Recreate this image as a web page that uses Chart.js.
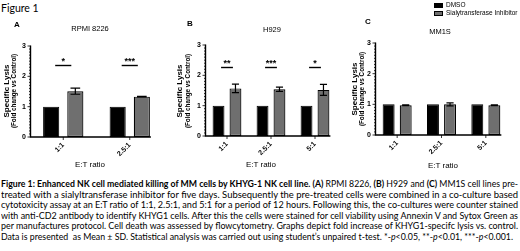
<!DOCTYPE html>
<html>
<head>
<meta charset="utf-8">
<script src="https://cdn.jsdelivr.net/npm/chart.js@4.4.1/dist/chart.umd.min.js"></script>
<style>
  html, body { margin: 0; padding: 0; background: #fff; }
  body { width: 520px; height: 251px; position: relative; overflow: hidden; font-family: "Liberation Sans", Arial, sans-serif; color: #000; }
  canvas { position: absolute; top: 0; }
  .t { position: absolute; white-space: nowrap; transform: translate(-50%, -50%); }
  .rot { transform: translate(-50%, -50%) rotate(-90deg); }
  .fig { position: absolute; left: 1px; top: 2px; font-family: Lato, "Open Sans", sans-serif; font-size: 10.5px; }
  .legend { position: absolute; left: 434px; width: 86px; font-size: 6.5px; line-height: 8px; }
  .legend div { white-space: nowrap; }
  .legend span.box { display: inline-block; width: 9px; height: 5px; border: 1px solid #000; margin-right: 3px; vertical-align: -1px; box-sizing: border-box; }
  .cap { position: absolute; left: 1px; font-family: Lato, "Open Sans", sans-serif; font-size: 9.5px; white-space: nowrap; transform-origin: 0 50%; }
</style>
</head>
<body>
<div class="fig">Figure 1</div>

<canvas id="chartA" width="172" height="175" style="left:0px"></canvas>
<canvas id="chartB" width="172" height="175" style="left:170px"></canvas>
<canvas id="chartC" width="180" height="175" style="left:340px"></canvas>

<div id="labels"></div>
<div id="legend"></div>
<div id="caption"></div>

<script>
  // data
  var ratiosA = ['1:1', '2.5:1'];
  var ratiosBC = ['1:1', '2.5:1', '5:1'];
  var seriesNames = ['DMSO', 'Sialytransferase Inhibitor'];
  var seriesColors = ['#000000', '#6f6f6f'];

  var dmsoA = [1, 1];
  var inhibA = [1.51, 1.33];
  var inhibSdA = [0.1, 0.01];
  var starsA = ['*', '***'];

  var dmsoB = [1, 1, 1];
  var inhibB = [1.57, 1.54, 1.52];
  var inhibSdB = [0.14, 0.07, 0.18];
  var starsB = ['**', '***', '*'];

  var dmsoC = [1, 1, 1];
  var inhibC = [0.97, 1.0, 0.97];
  var inhibSdC = [0.01, 0.05, 0.01];
  var starsC = [];

  var yTicks = [0, 1, 2, 3];
  var panelTitles = ['RPMI 8226', 'H929', 'MM1S'];
  var panelLetters = ['A', 'B', 'C'];
  var xTitle = 'E:T ratio';
  var yTitle = 'Specific Lysis';
  var ySubTitle = '(Fold change vs Control)';

  var captionLines = [
    '<b>Figure 1: Enhanced NK cell mediated killing of MM cells by KHYG-1 NK cell line. (A)</b> RPMI 8226, <b>(B)</b> H929 and <b>(C)</b> MM1S cell lines pre-',
    'treated with a sialyltransferase inhibitor for five days. Subsequently the pre-treated cells were combined in a co-culture based',
    'cytotoxicity assay at an E:T ratio of 1:1, 2.5:1, and 5:1 for a period of 12 hours. Following this, the co-cultures were counter stained',
    'with anti-CD2 antibody to identify KHYG1 cells. After this the cells were stained for cell viability using Annexin V and Sytox Green as',
    'per manufactures protocol. Cell death was assessed by flowcytometry. Graphs depict fold increase of KHYG1-specifc lysis vs. control.',
    'Data is presented &nbsp;as Mean \u00b1 SD. Statistical analysis was carried out using student\u2019s unpaired t-test. *-<i>p</i>&lt;0.05, **-<i>p</i>&lt;0.01, ***-<i>p</i>&lt;0.001.'
  ];

  // draws the Prism style axes, error bars and significance marks
  var prismPlugin = {
    id: 'prism',
    afterDatasetsDraw: function(chart, args, opts) {
      var ctx = chart.ctx;
      var y = chart.scales.y;
      var area = chart.chartArea;
      var m0 = chart.getDatasetMeta(0).data;
      var m1 = chart.getDatasetMeta(1).data;
      ctx.save();
      ctx.strokeStyle = '#000';
      ctx.lineWidth = 1.2;

      // error bars on the inhibitor series
      for (var i = 0; i < m1.length; i++) {
        var v = chart.data.datasets[1].data[i];
        var sd = opts.sd[i] || 0;
        if (!sd) continue;
        var el = m1[i];
        var top = y.getPixelForValue(v + sd);
        var bot = y.getPixelForValue(v - sd);
        var half = el.width * 0.3;
        ctx.beginPath();
        ctx.moveTo(el.x, top); ctx.lineTo(el.x, bot);
        ctx.moveTo(el.x - half, top); ctx.lineTo(el.x + half, top);
        ctx.moveTo(el.x - half, bot); ctx.lineTo(el.x + half, bot);
        ctx.stroke();
      }

      // significance bars
      ctx.fillStyle = '#000';
      ctx.font = 'bold 9px "Liberation Sans", Arial';
      ctx.textAlign = 'center';
      ctx.textBaseline = 'bottom';
      for (var j = 0; j < opts.stars.length; j++) {
        if (!opts.stars[j]) continue;
        var cx = (m0[j].x + m1[j].x) / 2;
        var ly = Math.round(y.getPixelForValue(opts.level)) + 0.5;
        var hw = m0[j].width * 0.5;
        ctx.lineWidth = 1.4;
        ctx.beginPath();
        ctx.moveTo(cx - hw, ly); ctx.lineTo(cx + hw, ly);
        ctx.stroke();
        ctx.fillText(opts.stars[j], cx, ly + 1);
      }

      // axes
      var x0 = area.left + 0.5;
      var yb = y.getPixelForValue(0);
      var yt = y.getPixelForValue(3);
      var last = m1[m1.length - 1];
      ctx.lineWidth = 1.4;
      ctx.beginPath();
      ctx.moveTo(x0, yt - 0.5); ctx.lineTo(x0, yb + 0.7);
      ctx.moveTo(x0, yb); ctx.lineTo(last.x + last.width / 2 + 1, yb);
      ctx.stroke();
      ctx.lineWidth = 0.8;
      ctx.beginPath();
      for (var k = 0; k <= 30; k++) {
        var py = y.getPixelForValue(k / 10);
        var len = k % 10 === 0 ? 3 : 1.5;
        ctx.moveTo(x0 - len, py); ctx.lineTo(x0, py);
      }
      for (var c = 0; c < m0.length; c++) {
        var tx = (m0[c].x + m1[c].x) / 2;
        ctx.moveTo(tx, yb); ctx.lineTo(tx, yb + 3);
      }
      ctx.stroke();
      ctx.restore();
    }
  };

  function makeChart(id, labels, dmso, inhib, sd, stars, level, box) {
    return new Chart(document.getElementById(id), {
      type: 'bar',
      data: {
        labels: labels,
        datasets: [{
          label: seriesNames[0],
          data: dmso,
          backgroundColor: seriesColors[0],
          borderColor: '#000',
          borderWidth: 1,
          borderSkipped: false
        }, {
          label: seriesNames[1],
          data: inhib,
          backgroundColor: seriesColors[1],
          borderColor: '#000',
          borderWidth: 1.2,
          borderSkipped: false
        }]
      },
      options: {
        responsive: false,
        animation: false,
        events: [],
        categoryPercentage: box.cat,
        barPercentage: box.bar,
        layout: { padding: { top: box.top, left: 0, right: box.right, bottom: 0 } },
        plugins: {
          legend: { display: false },
          tooltip: { enabled: false },
          prism: { sd: sd, stars: stars, level: level }
        },
        scales: {
          x: {
            grid: { display: false, tickLength: 4 },
            border: { display: false },
            ticks: { color: '#000', font: { family: '"Liberation Sans", Arial', size: 7, weight: 'bold' }, minRotation: 45, maxRotation: 45, padding: 0 },
            afterFit: function(s) { s.height = box.xh; }
          },
          y: {
            min: 0,
            max: 3,
            grid: { display: false, tickLength: 3 },
            border: { display: false },
            afterBuildTicks: function(s) { s.ticks = yTicks.map(function(v) { return { value: v }; }); },
            ticks: { color: '#000', font: { family: '"Liberation Sans", Arial', size: 7, weight: 'bold' }, padding: 1 },
            afterFit: function(s) { s.width = box.yw; }
          }
        }
      },
      plugins: [prismPlugin]
    });
  }

  makeChart('chartA', ratiosA, dmsoA, inhibA, inhibSdA, starsA, 2.37,
    { top: 46, right: 9, yw: 30, xh: 38, cat: 0.727, bar: 0.667 });
  makeChart('chartB', ratiosBC, dmsoB, inhibB, inhibSdB, starsB, 2.29,
    { top: 45, right: 5, yw: 35, xh: 39, cat: 0.77, bar: 0.7 });
  makeChart('chartC', ratiosBC, dmsoC, inhibC, inhibSdC, starsC, 2.3,
    { top: 43, right: 12, yw: 35, xh: 40, cat: 0.77, bar: 0.7 });

  // panel texts
  var panelPos = [
    { letter: [17, 24], title: [90, 28], ys: [6, 91], yf: [13, 91], xt: [90, 164] },
    { letter: [190, 23], title: [272, 29], ys: [179, 91], yf: [187, 91], xt: [261, 164] },
    { letter: [368, 21], title: [440, 31], ys: [354, 89], yf: [361, 89], xt: [443, 165] }
  ];
  var html = '';
  panelPos.forEach(function(p, i) {
    html += '<div class="t" style="left:' + p.letter[0] + 'px;top:' + p.letter[1] + 'px;font-size:8px;font-weight:bold">' + panelLetters[i] + '</div>';
    html += '<div class="t" style="left:' + p.title[0] + 'px;top:' + p.title[1] + 'px;font-size:7.5px">' + panelTitles[i] + '</div>';
    html += '<div class="t rot" style="left:' + p.ys[0] + 'px;top:' + p.ys[1] + 'px;font-size:8px;font-weight:bold">' + yTitle + '</div>';
    html += '<div class="t rot" style="left:' + p.yf[0] + 'px;top:' + p.yf[1] + 'px;font-size:6.3px;font-weight:bold">' + ySubTitle + '</div>';
    html += '<div class="t" style="left:' + p.xt[0] + 'px;top:' + p.xt[1] + 'px;font-size:8px">' + xTitle + '</div>';
  });
  document.getElementById('labels').innerHTML = html;

  var leg = '';
  seriesNames.forEach(function(name, i) {
    leg += '<div style="position:absolute;left:0;top:' + (i * 8) + 'px"><span class="box" style="background:' + seriesColors[i] + '"></span>' + name + '</div>';
  });
  var legendEl = document.getElementById('legend');
  legendEl.className = 'legend';
  legendEl.style.top = '1px';
  legendEl.innerHTML = leg;

  // caption lines, each squeezed to the full width like the justified original
  var cap = document.getElementById('caption');
  captionLines.forEach(function(line, i) {
    var d = document.createElement('div');
    d.className = 'cap';
    d.style.top = (178 + i * 10.5) + 'px';
    d.innerHTML = line;
    cap.appendChild(d);
    var w = d.getBoundingClientRect().width;
    var target = i === captionLines.length - 1 ? 512 : 517;
    d.style.transform = 'scaleX(' + (target / w) + ')';
  });
</script>
</body>
</html>
